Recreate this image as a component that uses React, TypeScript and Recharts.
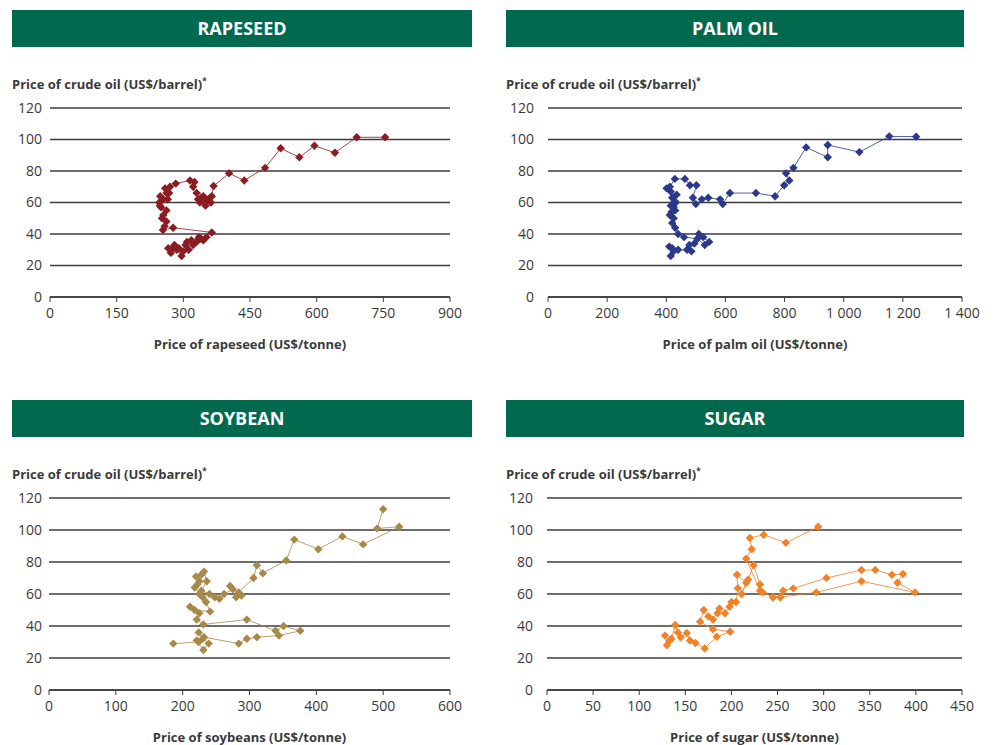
import { ScatterChart, Scatter, XAxis, YAxis, CartesianGrid } from "recharts";

const oilTicks = [0, 20, 40, 60, 80, 100, 120];

const rapeseedTicks = [0, 150, 300, 450, 600, 750, 900];
const rapeseedPrice = [275, 266, 272, 280, 285, 296, 290, 300, 312, 305, 308, 322, 330, 318, 335, 340, 345, 352, 364, 277, 254, 258, 262, 252, 255, 262, 250, 247, 246, 255, 248, 265, 262, 268, 259, 270, 283, 315, 325, 322, 330, 333, 337, 340, 345, 348, 350, 356, 360, 362, 364, 368, 403, 437, 484, 519, 561, 595, 641, 690, 754];
const rapeseedOil = [31, 31, 28, 33, 30, 26, 31, 29, 30, 33, 35, 33, 35, 36, 38, 37, 36, 38, 41, 44, 42.5, 45, 48, 50, 52, 55, 57, 58, 60, 62, 64, 62, 66, 66, 69, 70, 72, 74, 73, 70, 66, 62, 60, 63, 64, 60, 58, 62, 63, 60, 64, 70.5, 78.5, 74, 82, 94.4, 88.7, 96, 91.6, 101.4, 101.4];

const palmTicks = [0, 200, 400, 600, 800, 1000, 1200, 1400];
const palmPrice = [410, 425, 415, 420, 440, 470, 485, 478, 495, 510, 525, 545, 530, 505, 460, 440, 430, 420, 425, 412, 418, 430, 415, 425, 432, 420, 428, 435, 415, 401, 412, 429, 463, 480, 502, 490, 500, 520, 542, 582, 591, 615, 703, 768, 799, 816, 805, 830, 873, 946, 946, 1053, 1154, 1245];
const palmOil = [32, 29, 26, 31, 30, 30, 29, 33, 34, 40, 38, 35, 33, 37, 38, 40, 44, 47, 50, 52, 54, 55, 58, 57, 60, 63, 61, 65, 67, 69, 70, 75, 75, 71, 71, 63, 59, 62, 63, 62, 59, 66, 66, 64, 71, 74, 78.5, 82, 95, 88.7, 96.5, 92, 102, 101.8];

const soyTicks = [0, 100, 200, 300, 400, 500, 600];
const soyPrice = [186, 224, 221, 231, 239, 230, 224, 232, 284, 296, 311, 344, 376, 351, 339, 296, 231, 221, 225, 211, 218, 241, 235, 225, 230, 218, 222, 225, 220, 228, 232, 236, 228, 240, 248, 255, 262, 275, 288, 280, 271, 284, 306, 311, 320, 355, 367, 403, 439, 470, 524, 491, 500];
const soyOil = [29, 30, 31, 25, 29, 32, 36, 33, 29, 32, 33, 34, 37, 40, 37, 44, 41, 44, 48, 52, 50, 49, 55, 60, 58, 64, 66, 68, 71, 72, 74, 68, 62, 60, 58, 57, 60, 63, 59, 58, 65, 61, 70, 78, 73, 81, 94, 88, 96, 91, 102, 101, 113];

const sugarTicks = [0, 50, 100, 150, 200, 250, 300, 350, 400, 450];
const sugarPrice = [128, 130, 133, 135, 139, 142, 145, 151.5, 155, 161, 171, 184, 198.5, 180, 166, 170, 175, 180, 187, 185, 193, 198, 200, 205, 207, 206, 216, 211, 218, 224, 231, 234, 245, 253, 256, 267, 303, 341, 356, 374, 386, 380, 399, 341, 292, 253, 245, 231, 216, 222, 220, 235, 259, 294];
const sugarOil = [34, 28, 31, 32, 40.6, 36, 33, 35.6, 31, 29.4, 26, 33.3, 36.4, 38, 42.7, 50, 46, 44, 51, 48, 48, 52, 55, 55, 63.6, 72, 67, 60, 69, 78, 66, 61, 58, 58, 62, 63.5, 70, 75, 75, 72, 72.5, 67, 61, 68, 61, 58, 58, 62, 82, 88, 95, 97, 92, 102];

const toPoints = (xs: number[], ys: number[]) => xs.map((x, i) => ({ x, y: ys[i] }));

const FONT = "'Open Sans', sans-serif";
const GREEN = "#00694e";
const TEXT = "#3a3a3a";

const fmtThousands = (v: number) =>
  v >= 1000 ? `${Math.floor(v / 1000)} ${String(v % 1000).padStart(3, "0")}` : String(v);

const Diamond = (props: any) => {
  const { cx, cy, fill } = props;
  const r = 4.2;
  return <path d={`M${cx},${cy - r}L${cx + r},${cy}L${cx},${cy + r}L${cx - r},${cy}Z`} fill={fill} />;
};

interface PanelProps {
  title: string;
  xLabel: string;
  color: string;
  data: { x: number; y: number }[];
  xTicks: number[];
  chartLeft: number;
  plotLeft: number;
  plotRight: number;
  plotTop: number;
  plotBottom: number;
  headerTop: number;
  headerLeft: number;
  headerWidth: number;
  labelGap: number;
}

function Panel(p: PanelProps) {
  const mTop = 13;
  const plotH = p.plotBottom - p.plotTop;
  const width = p.plotRight - p.chartLeft + 25;
  const height = mTop + plotH + 30 + 2;
  const xMax = p.xTicks[p.xTicks.length - 1];
  return (
    <>
      <div
        style={{
          position: "absolute",
          left: p.headerLeft,
          top: p.headerTop,
          width: p.headerWidth,
          height: 37,
          background: GREEN,
          color: "#fff",
          fontFamily: FONT,
          fontWeight: 700,
          fontSize: 18,
          lineHeight: "37px",
          textAlign: "center",
        }}
      >
        {p.title}
      </div>
      <div
        style={{
          position: "absolute",
          left: p.headerLeft,
          top: p.headerTop + 65,
          fontFamily: FONT,
          fontWeight: 700,
          fontSize: 13,
          color: TEXT,
          whiteSpace: "nowrap",
        }}
      >
        Price of crude oil (US$/barrel)<sup style={{ fontSize: 8 }}>*</sup>
      </div>
      <div
        style={{
          position: "absolute",
          left: p.plotLeft,
          width: p.plotRight - p.plotLeft,
          top: p.plotBottom + 40,
          lineHeight: "14px",
          textAlign: "center",
          fontFamily: FONT,
          fontWeight: 700,
          fontSize: 13,
          color: TEXT,
          whiteSpace: "nowrap",
        }}
      >
        {p.xLabel}
      </div>
      <div style={{ position: "absolute", left: p.chartLeft, top: p.plotTop - mTop }}>
        <ScatterChart width={width} height={height} margin={{ top: mTop, right: 25, left: 0, bottom: 2 }}>
          <CartesianGrid vertical={false} stroke="#3c3c3c" strokeWidth={1.3} />
          <XAxis
            type="number"
            dataKey="x"
            domain={[0, xMax]}
            ticks={p.xTicks}
            interval={0}
            tickFormatter={fmtThousands}
            axisLine={{ stroke: "#3c3c3c", strokeWidth: 1.3 }}
            tickLine={{ stroke: "#3c3c3c" }}
            tickSize={5}
            tickMargin={6}
            tick={{ fill: TEXT, fontSize: 14, fontFamily: FONT }}
            height={30}
          />
          <YAxis
            type="number"
            dataKey="y"
            domain={[0, 120]}
            ticks={oilTicks}
            interval={0}
            axisLine={false}
            tickLine={false}
            tickSize={6}
            tickMargin={p.labelGap - 6}
            width={p.plotLeft - p.chartLeft}
            tick={{ fill: TEXT, fontSize: 14, fontFamily: FONT }}
          />
          <Scatter
            data={p.data}
            fill={p.color}
            line={{ stroke: p.color, strokeWidth: 1, strokeOpacity: 0.8 }}
            shape={<Diamond />}
            isAnimationActive={false}
          />
        </ScatterChart>
      </div>
    </>
  );
}

export default function App() {
  return (
    <div style={{ position: "absolute", left: 0, top: 0, width: 995, height: 745, background: "#fff" }}>
      <Panel
        title="RAPESEED"
        xLabel="Price of rapeseed (US$/tonne)"
        color="#8b1c22"
        data={toPoints(rapeseedPrice, rapeseedOil)}
        xTicks={rapeseedTicks}
        chartLeft={0}
        plotLeft={50}
        plotRight={450}
        plotTop={108}
        plotBottom={297}
        headerTop={10}
        headerLeft={12}
        headerWidth={460}
        labelGap={8}
      />
      <Panel
        title="PALM OIL"
        xLabel="Price of palm oil (US$/tonne)"
        color="#2b388c"
        data={toPoints(palmPrice, palmOil)}
        xTicks={palmTicks}
        chartLeft={490}
        plotLeft={548}
        plotRight={962}
        plotTop={108}
        plotBottom={297}
        headerTop={10}
        headerLeft={506}
        headerWidth={458}
        labelGap={14}
      />
      <Panel
        title="SOYBEAN"
        xLabel="Price of soybeans (US$/tonne)"
        color="#a8894a"
        data={toPoints(soyPrice, soyOil)}
        xTicks={soyTicks}
        chartLeft={0}
        plotLeft={49}
        plotRight={450}
        plotTop={498}
        plotBottom={690}
        headerTop={400}
        headerLeft={12}
        headerWidth={460}
        labelGap={7}
      />
      <Panel
        title="SUGAR"
        xLabel="Price of sugar (US$/tonne)"
        color="#f08228"
        data={toPoints(sugarPrice, sugarOil)}
        xTicks={sugarTicks}
        chartLeft={490}
        plotLeft={547}
        plotRight={962}
        plotTop={498}
        plotBottom={690}
        headerTop={400}
        headerLeft={506}
        headerWidth={458}
        labelGap={14}
      />
    </div>
  );
}
